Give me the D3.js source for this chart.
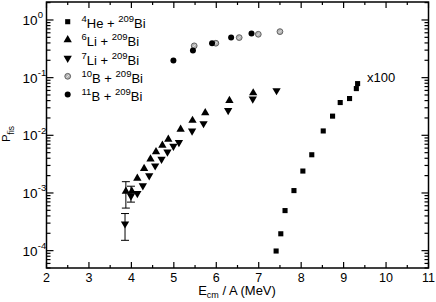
<!DOCTYPE html>
<html><head><meta charset="utf-8">
<script src="https://cdn.jsdelivr.net/npm/d3@7"></script>
<style>body{margin:0;background:#fff}svg{font-family:"Liberation Sans",Arial,Helvetica,sans-serif}</style>
</head><body><svg id="c" width="436" height="302"></svg>
<script>
// Data (x = Ecm/A in MeV, y = P_fis)
const he4X = [7.41, 7.52, 7.62, 7.83, 8.04, 8.25, 8.52, 8.74, 8.92, 9.14, 9.30, 9.33];
const he4Y = [9.85e-5, 1.96e-4, 4.95e-4, 1.1e-3, 2.4e-3, 4.6e-3, 0.0119, 0.0215, 0.037, 0.0434, 0.0646, 0.0788];
const li6X = [3.87, 4.01, 4.14, 4.30, 4.45, 4.58, 4.73, 4.87, 5.16, 5.44, 5.74, 6.31, 6.87];
const li6Y = [1.07e-3, 1.07e-3, 1.8e-3, 2.65e-3, 3.86e-3, 5.15e-3, 6.7e-3, 8.5e-3, 0.0127, 0.0181, 0.0245, 0.0401, 0.0543];
const li7X = [3.85, 3.99, 4.14, 4.27, 4.42, 4.56, 4.71, 4.85, 4.99, 5.12, 5.43, 5.70, 6.28, 6.86, 7.42];
const li7Y = [2.92e-4, 8.9e-4, 9.8e-4, 1.34e-3, 1.99e-3, 2.96e-3, 3.86e-3, 5.15e-3, 6.5e-3, 7.5e-3, 0.0119, 0.016, 0.027, 0.0428, 0.0597];
const b10X = [5.48, 5.99, 6.54, 6.99, 7.50];
const b10Y = [0.356, 0.395, 0.495, 0.565, 0.628];
const b11X = [4.99, 5.45, 5.90, 6.35, 6.83];
const b11Y = [0.199, 0.296, 0.395, 0.495, 0.58];
// Error bars: [x, low, high]
const errX = [3.87, 3.99, 3.85];
const errLo = [5.47e-4, 6.94e-4, 1.51e-4];
const errHi = [1.57e-3, 1.31e-3, 4.4e-4];
const xTicks = [2, 3, 4, 5, 6, 7, 8, 9, 10, 11];
const yTickExp = [0, -1, -2, -3, -4];
const legendLabels = [["4", "He + ", "209", "Bi"], ["6", "Li + ", "209", "Bi"], ["7", "Li + ", "209", "Bi"], ["10", "B + ", "209", "Bi"], ["11", "B + ", "209", "Bi"]];

const svg = d3.select("#c");
const L = 46.5, R = 428.5, T = 2, B = 268;
const x = d3.scaleLinear().domain([2, 11]).range([L, R]);
const y = d3.scaleLog().domain([5e-5, 2.05]).range([B, T]);

// frame
svg.append("rect").attr("x", L).attr("y", T).attr("width", R - L).attr("height", B - T)
  .attr("fill", "none").attr("stroke", "#000").attr("stroke-width", 1.5);

const tk = svg.append("g").attr("stroke", "#000").attr("stroke-width", 1.2);
const xMinor = d3.range(2.5, 11, 1);
xTicks.forEach(v => {
  tk.append("line").attr("x1", x(v)).attr("x2", x(v)).attr("y1", B).attr("y2", B - 6);
  tk.append("line").attr("x1", x(v)).attr("x2", x(v)).attr("y1", T).attr("y2", T + 6);
});
xMinor.forEach(v => {
  tk.append("line").attr("x1", x(v)).attr("x2", x(v)).attr("y1", B).attr("y2", B - 3);
  tk.append("line").attr("x1", x(v)).attr("x2", x(v)).attr("y1", T).attr("y2", T + 3);
});
const yMaj = yTickExp.map(e => Math.pow(10, e));
const yMin = [];
for (let e = -5; e <= 0; e++) for (let m = 2; m <= 9; m++) {
  const v = m * Math.pow(10, e);
  if (v >= 5e-5 && v <= 2.05) yMin.push(v);
}
yMaj.forEach(v => {
  tk.append("line").attr("x1", L).attr("x2", L + 7).attr("y1", y(v)).attr("y2", y(v));
  tk.append("line").attr("x1", R).attr("x2", R - 7).attr("y1", y(v)).attr("y2", y(v));
});
yMin.forEach(v => {
  tk.append("line").attr("x1", L).attr("x2", L + 4).attr("y1", y(v)).attr("y2", y(v));
  tk.append("line").attr("x1", R).attr("x2", R - 4).attr("y1", y(v)).attr("y2", y(v));
});

// x tick labels
svg.append("g").selectAll("text").data(xTicks).join("text")
  .attr("x", d => x(d)).attr("y", 281.5).attr("text-anchor", "middle")
  .attr("font-size", 12.5).text(d => d);
// y tick labels
yTickExp.forEach(e => {
  const yy = y(Math.pow(10, e));
  svg.append("text").attr("x", 37.5).attr("y", yy + 5).attr("text-anchor", "end")
    .attr("font-size", 13.5).text("10");
  svg.append("text").attr("x", 37.8).attr("y", yy - 1.5).attr("font-size", 9.5)
    .text(e === 0 ? "0" : "-" + Math.abs(e));
});

// axis labels
const xl = svg.append("text").attr("x", 237).attr("y", 295).attr("text-anchor", "middle").attr("font-size", 13);
xl.append("tspan").text("E");
xl.append("tspan").attr("font-size", 9).attr("dy", 3).text("cm");
xl.append("tspan").attr("dy", -3).text(" / A (MeV)");
const yl = svg.append("text").attr("transform", "translate(10,134) rotate(-90)")
  .attr("text-anchor", "middle").attr("font-size", 11.5);
yl.append("tspan").text("P");
yl.append("tspan").attr("font-size", 8.5).attr("dy", 3.5).text("fis");

svg.append("text").attr("x", 367).attr("y", 82).attr("font-size", 13).text("x100");

// error bars
const eb = svg.append("g").attr("stroke", "#000").attr("stroke-width", 1);
errX.forEach((v, i) => {
  const xx = x(v);
  eb.append("line").attr("x1", xx).attr("x2", xx).attr("y1", y(errLo[i])).attr("y2", y(errHi[i]));
  [errLo[i], errHi[i]].forEach(w => eb.append("line").attr("x1", xx - 4).attr("x2", xx + 4).attr("y1", y(w)).attr("y2", y(w)));
});

// markers
const tri = d3.symbol().type(d3.symbolTriangle).size(30);
const sq = d3.symbol().type(d3.symbolSquare).size(26);
function drawSeries(xs, ys, kind) {
  const g = svg.append("g");
  xs.forEach((v, i) => addMarker(g, x(v), y(ys[i]), kind));
}
function addMarker(g, px, py, kind) {
  if (kind === "sq") g.append("path").attr("d", sq()).attr("transform", `translate(${px},${py})`).attr("fill", "#000");
  else if (kind === "up") g.append("path").attr("d", tri()).attr("transform", `translate(${px},${py})`).attr("fill", "#000");
  else if (kind === "down") g.append("path").attr("d", tri()).attr("transform", `translate(${px},${py}) rotate(180)`).attr("fill", "#000");
  else if (kind === "gray") {
    g.append("circle").attr("cx", px).attr("cy", py).attr("r", 2.9).attr("fill", "#b5b5b5").attr("stroke", "#555").attr("stroke-width", 0.9);
    g.append("line").attr("x1", px - 1.3).attr("y1", py + 1.3).attr("x2", px + 1.3).attr("y2", py - 1.3).attr("stroke", "#eee").attr("stroke-width", 0.8);
  }
  else g.append("circle").attr("cx", px).attr("cy", py).attr("r", 3).attr("fill", "#000");
}
drawSeries(li6X, li6Y, "up");
drawSeries(li7X, li7Y, "down");
drawSeries(he4X, he4Y, "sq");
drawSeries(b10X, b10Y, "gray");
drawSeries(b11X, b11Y, "black");

// legend
const kinds = ["sq", "up", "down", "gray", "black"];
const lg = svg.append("g");
legendLabels.forEach((lab, i) => {
  const cy = 21.7 + i * 18.2;
  addMarker(lg, 67.7, cy, kinds[i]);
  const t = lg.append("text").attr("x", 81.5).attr("y", cy + 6.5).attr("font-size", 13);
  t.append("tspan").attr("font-size", 9.5).attr("dy", -6).text(lab[0]);
  t.append("tspan").attr("dy", 6).text(lab[1]);
  t.append("tspan").attr("font-size", 9.5).attr("dy", -6).text(lab[2]);
  t.append("tspan").attr("dy", 6).text(lab[3]);
});
</script></body></html>
